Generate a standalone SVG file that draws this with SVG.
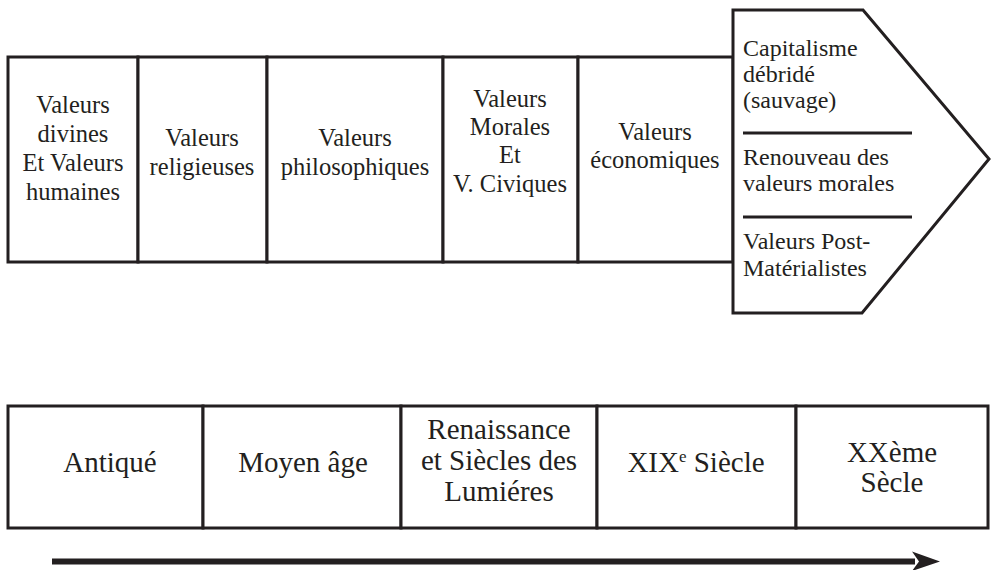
<svg xmlns="http://www.w3.org/2000/svg" width="991" height="570" viewBox="0 0 991 570">
<style>
.box{fill:#fff;stroke:#231f20;stroke-width:3}
.sep{stroke:#231f20;stroke-width:3}
text{font-family:"Liberation Serif","DejaVu Serif",serif;fill:#231f20}
.t{font-size:24.5px;text-anchor:middle}
.p{font-size:24px}
.b{font-size:29px;text-anchor:middle}
</style>
<g id="top-values">
<g id="n1"><rect class="box" x="8" y="57" width="130" height="205"/>
<text class="t"><tspan x="73" y="113">Valeurs</tspan><tspan x="73" y="142">divines</tspan><tspan x="73" y="171">Et Valeurs</tspan><tspan x="73" y="200">humaines</tspan></text></g>
<g id="n2"><rect class="box" x="138" y="57" width="129" height="205"/>
<text class="t"><tspan x="202" y="146">Valeurs</tspan><tspan x="202" y="175">religieuses</tspan></text></g>
<g id="n3"><rect class="box" x="267" y="57" width="176" height="205"/>
<text class="t"><tspan x="355" y="146">Valeurs</tspan><tspan x="355" y="175">philosophiques</tspan></text></g>
<g id="n4"><rect class="box" x="443" y="57" width="135" height="205"/>
<text class="t"><tspan x="510" y="107">Valeurs</tspan><tspan x="510" y="135">Morales</tspan><tspan x="510" y="163">Et</tspan><tspan x="510" y="192">V. Civiques</tspan></text></g>
<g id="n5"><rect class="box" x="578" y="57" width="155" height="205"/>
<text class="t"><tspan x="655" y="140">Valeurs</tspan><tspan x="655" y="168">économiques</tspan></text></g>
</g>
<g id="n6">
<polygon class="box" points="733,10 863,10 989,159 862,313 733,313"/>
<line class="sep" x1="743" y1="133" x2="912" y2="133"/>
<line class="sep" x1="743" y1="217" x2="912" y2="217"/>
<text class="p"><tspan x="743" y="56">Capitalisme</tspan><tspan x="743" y="82">débridé</tspan><tspan x="743" y="108">(sauvage)</tspan></text>
<text class="p"><tspan x="743" y="165">Renouveau des</tspan><tspan x="743" y="191">valeurs morales</tspan></text>
<text class="p"><tspan x="743" y="249">Valeurs Post-</tspan><tspan x="743" y="276">Matérialistes</tspan></text>
</g>
<g id="periods">
<g id="p1"><rect class="box" x="8" y="406" width="195" height="122"/>
<text class="b" x="110" y="472">Antiqué</text></g>
<g id="p2"><rect class="box" x="203" y="406" width="198" height="122"/>
<text class="b" x="303" y="472">Moyen âge</text></g>
<g id="p3"><rect class="box" x="401" y="406" width="196" height="122"/>
<text class="b"><tspan x="499" y="439">Renaissance</tspan><tspan x="499" y="470">et Siècles des</tspan><tspan x="499" y="501">Lumiéres</tspan></text></g>
<g id="p4"><rect class="box" x="597" y="406" width="199" height="122"/>
<text class="b" x="696" y="472">XIX<tspan font-size="17" dy="-10">e</tspan><tspan dy="10"> Siècle</tspan></text></g>
<g id="p5"><rect class="box" x="796" y="406" width="192" height="122"/>
<text class="b"><tspan x="892" y="462">XXème</tspan><tspan x="892" y="492">Sècle</tspan></text></g>
</g>
<g id="connectors">
<line x1="52" y1="561.5" x2="915" y2="561.5" stroke="#231f20" stroke-width="6"/>
<path d="M940,561.5 L912,551.5 L919,561.5 L912,571 Z" fill="#231f20"/>
</g>
</svg>
